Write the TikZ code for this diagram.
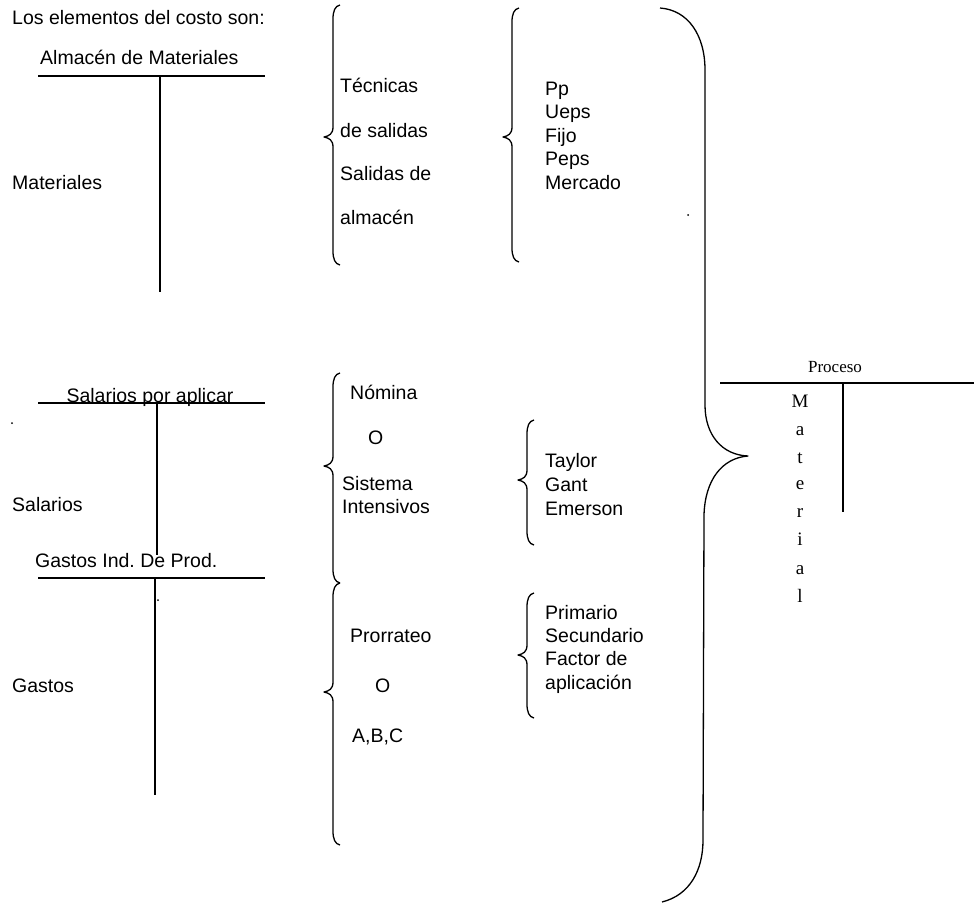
\documentclass[tikz,border=0pt]{standalone}
\usepackage{fontspec}
\setmainfont{Liberation Sans}
\newfontfamily\serifface{Liberation Serif}
\frenchspacing

% left curly brace: x of the stem, top y, bottom y, y of the tip
\newcommand{\cbrace}[4]{%
  \draw[brc] ({#1+7},#2) .. controls ({#1+2},{#2+1}) and (#1,{#2+6}) .. (#1,{#2+14})
    -- (#1,{#4-10}) .. controls (#1,{#4-3}) and ({#1-4},{#4-1}) .. ({#1-9},#4)
    .. controls ({#1-4},{#4+1}) and (#1,{#4+3}) .. (#1,{#4+10})
    -- (#1,{#3-14}) .. controls (#1,{#3-6}) and ({#1+2},{#3-1}) .. ({#1+7},#3);}

\begin{document}
\begin{tikzpicture}[x=1pt,y=-1pt,
  lbl/.style={anchor=mid west, inner sep=0pt, font=\fontsize{19.5}{23}\selectfont},
  ttl/.style={anchor=base, inner sep=0pt, font=\fontsize{19.5}{23}\selectfont},
  acct/.style={line width=1.5pt},
  brc/.style={line width=1.3pt, line join=round},
  letter/.style={anchor=mid, inner sep=0pt, font=\serifface\fontsize{19}{22}\selectfont},
  speck/.style={fill=black, circle, inner sep=0pt, minimum size=2pt}]
\useasboundingbox (0,0) rectangle (974,905);

% heading
\node[lbl] (intro) at (12,22) {Los elementos del costo son:};

% ---- materials account ----
\node[lbl] (almTitle) at (40,62) {Almacén de Materiales};
\coordinate (almL) at (38,76);  \coordinate (almR) at (265,76);
\coordinate (almT) at (160,76); \coordinate (almB) at (160,292);
\draw[acct] (almL) -- (almR);
\draw[acct] (almT) -- (almB);
\node[lbl] (mat) at (12,187) {Materiales};

\cbrace{333}{5}{265}{137}
\node[lbl] (tec)  at (340,90)  {Técnicas};
\node[lbl] (desal) at (340,135) {de salidas};
\node[lbl] (salde) at (340,178) {Salidas de};
\node[lbl] (alm)  at (340,222) {almacén};

\cbrace{512}{8}{262}{137}
\node[lbl] (pp)   at (545,93)  {Pp};
\node[lbl] (ueps) at (545,116) {Ueps};
\node[lbl] (fijo) at (545,140) {Fijo};
\node[lbl] (peps) at (545,163) {Peps};
\node[lbl] (merc) at (545,187) {Mercado};

\node[speck] (s1) at (688,215) {};

% ---- wages account ----
\node[ttl] (salTitle) at (150,402) {Salarios por aplicar};
\coordinate (salL) at (38,403);  \coordinate (salR) at (265,403);
\coordinate (salT) at (157,403); \coordinate (salB) at (157,555);
\draw[acct] (salL) -- (salR);
\draw[acct] (salT) -- (salB);
\node[speck] (s2) at (12,423) {};
\node[lbl] (sal) at (12,509) {Salarios};

\cbrace{333}{373}{583}{466}
\node[lbl] (nom)  at (350,397) {Nómina};
\node[lbl] (o1)   at (368,442) {O};
\node[lbl] (sis)  at (342,488) {Sistema};
\node[lbl] (int)  at (342,511) {Intensivos};

\cbrace{527}{420}{545}{480}
\node[lbl] (tay)  at (545,465) {Taylor};
\node[lbl] (gant) at (545,489) {Gant};
\node[lbl] (emer) at (545,513) {Emerson};

% ---- overhead account ----
\node[lbl] (gasTitle) at (35,565) {Gastos Ind. De Prod.};
\coordinate (gasL) at (38,578);  \coordinate (gasR) at (265,578);
\coordinate (gasT) at (155,578); \coordinate (gasB) at (155,795);
\draw[acct] (gasL) -- (gasR);
\draw[acct] (gasT) -- (gasB);
\node[speck] (s3) at (158,600) {};
\node[lbl] (gas) at (12,690) {Gastos};

\cbrace{333}{583}{845}{692}
\node[lbl] (pro)  at (350,640) {Prorrateo};
\node[lbl] (o2)   at (375,690) {O};
\node[lbl] (abc)  at (352,740) {A,B,C};

\cbrace{527}{593}{718}{655}
\node[lbl] (pri)  at (545,617) {Primario};
\node[lbl] (sec)  at (545,640) {Secundario};
\node[lbl] (fac)  at (545,663) {Factor de};
\node[lbl] (apl)  at (545,687) {aplicación};

% ---- large closing brace ----
\draw[brc] (660,8) .. controls (688,10) and (705,35) .. (705,70)
  -- (705,405) .. controls (705,435) and (722,455) .. (748,456)
  .. controls (722,458) and (705,480) .. (704,515)
  -- (703,840) .. controls (703,870) and (690,895) .. (662,902);

% ---- process account ----
\node[anchor=mid, inner sep=0pt, font=\serifface\fontsize{17}{20}\selectfont] (procTitle) at (835,370) {Proceso};
\coordinate (proL) at (720,383); \coordinate (proR) at (974,383);
\coordinate (proT) at (843,383); \coordinate (proB) at (843,512);
\draw[acct] (proL) -- (proR);
\draw[acct] (proT) -- (proB);
\node[letter] (m1) at (800,405) {M};
\node[letter] (m2) at (800,433) {a};
\node[letter] (m3) at (800,461) {t};
\node[letter] (m4) at (800,487) {e};
\node[letter] (m5) at (800,515) {r};
\node[letter] (m6) at (800,543) {i};
\node[letter] (m7) at (800,572) {a};
\node[letter] (m8) at (800,600) {l};
\end{tikzpicture}
\end{document}
